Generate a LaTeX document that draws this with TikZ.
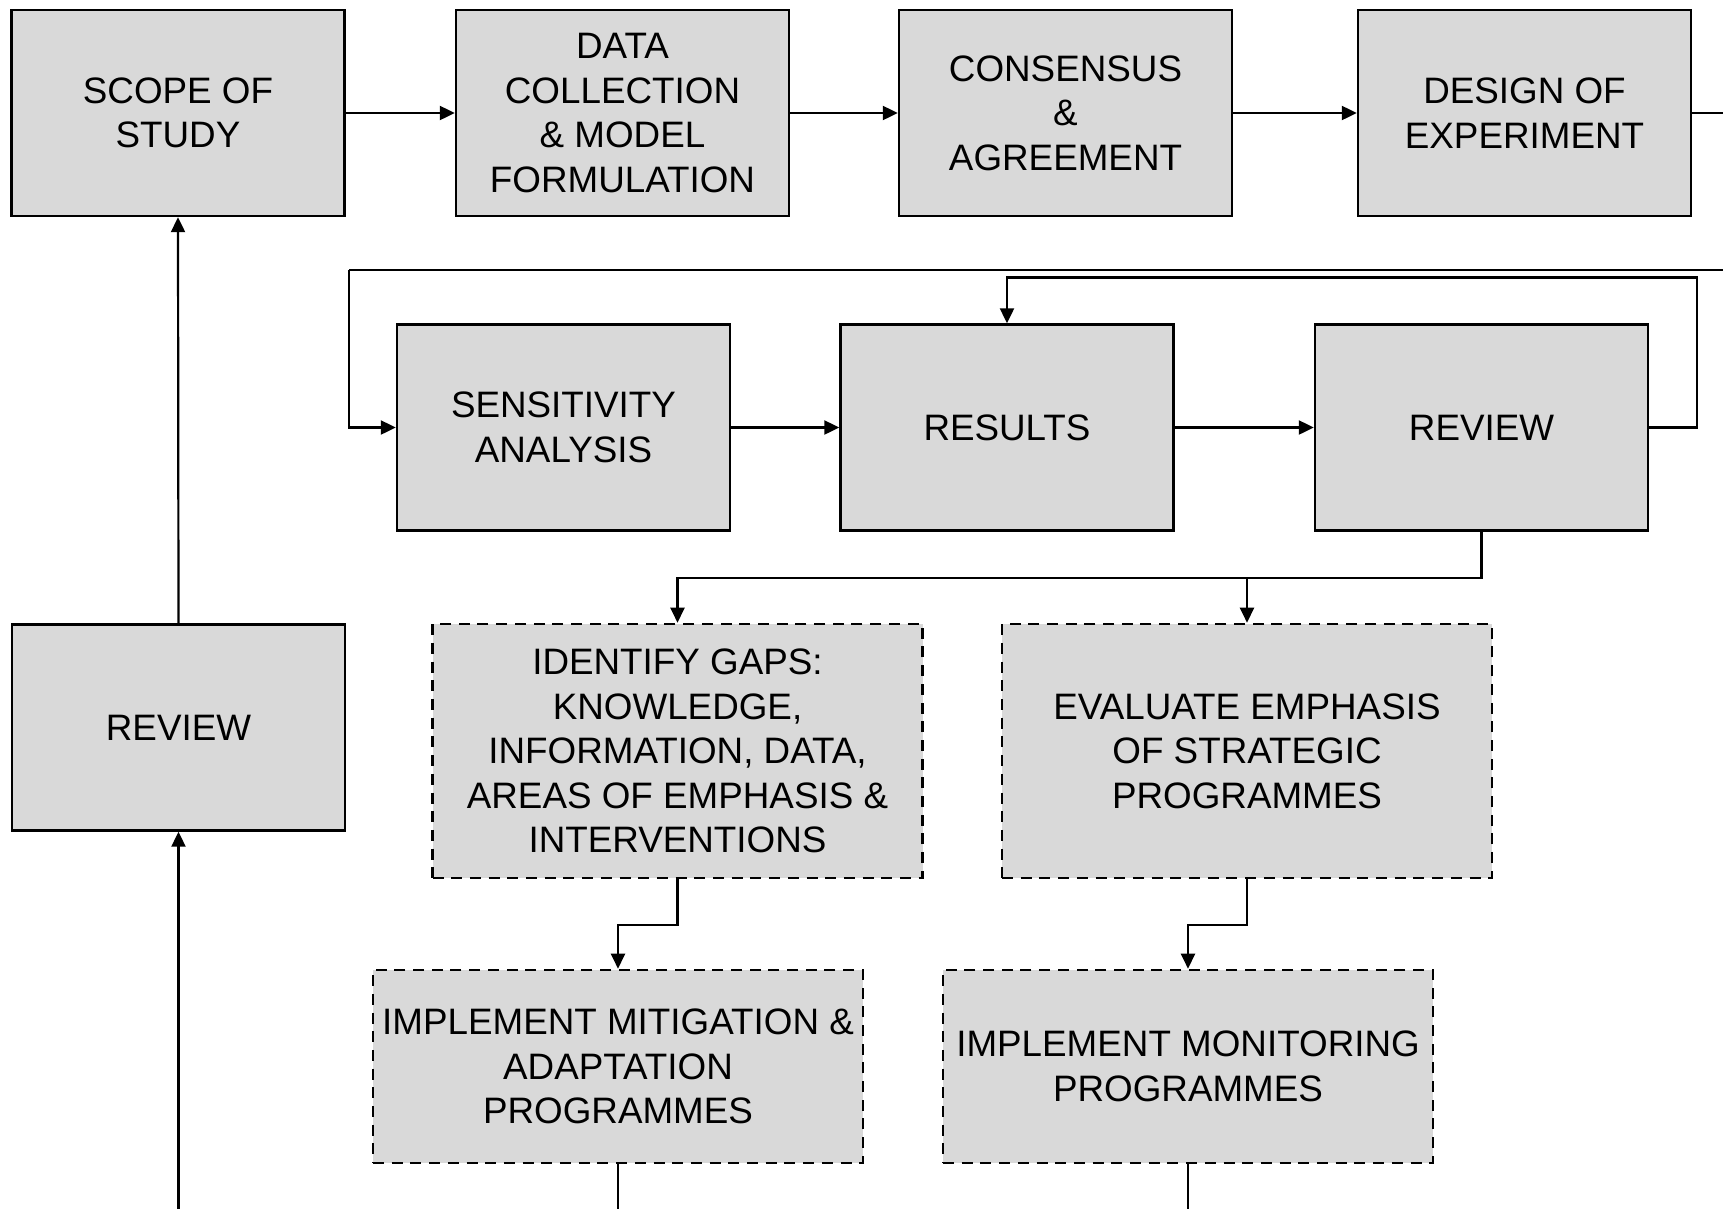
\documentclass[tikz,border=0pt]{standalone}
\usepackage{fontspec}
\setmainfont{Liberation Sans}
\usetikzlibrary{arrows.meta}
\begin{document}
\begin{tikzpicture}[x=1pt,y=-1pt,
  box/.style={draw=black,line width=2.4pt,fill=boxgray,align=center,
    inner sep=0pt,minimum width=333pt,minimum height=206pt,
    font=\fontsize{36.8}{44.5}\selectfont},
  planbox/.style={box,line width=2.6pt,dash pattern=on 11pt off 7.7pt,minimum width=490pt},
  arr/.style={line width=2.2pt,-{Triangle[length=15pt,width=14pt]}},
  ln/.style={line width=2.2pt}]
\definecolor{boxgray}{HTML}{D9D9D9}
\useasboundingbox (0,0) rectangle (1723,1208);
\clip (0,0) rectangle (1723,1208);

% top row
\node[box] (scope)  at (178,113)   {SCOPE OF\\STUDY};
\node[box] (data)   at (622.5,113) {DATA\\COLLECTION\\\& MODEL\\FORMULATION};
\node[box] (cons)   at (1065.5,113) {CONSENSUS\\\&\\AGREEMENT};
\node[box] (design) at (1524.5,113) {DESIGN OF\\EXPERIMENT};

% second row
\node[box] (sens) at (563.5,427.5)  {SENSITIVITY\\ANALYSIS};
\node[box] (res)  at (1007,427.5)   {RESULTS};
\node[box] (rev)  at (1481.5,427.5) {REVIEW};

% left column
\node[box] (revL) at (178.5,727.5) {REVIEW};

% follow-up actions
\node[planbox,minimum height=254pt] (gaps) at (677.5,751)
  {IDENTIFY GAPS:\\KNOWLEDGE,\\INFORMATION, DATA,\\AREAS OF EMPHASIS \&\\INTERVENTIONS};
\node[planbox,minimum height=254pt] (eval) at (1247,751)
  {EVALUATE EMPHASIS\\OF STRATEGIC\\PROGRAMMES};
\node[planbox,minimum height=193pt] (mitig) at (618,1066.5)
  {IMPLEMENT MITIGATION \&\\ADAPTATION\\PROGRAMMES};
\node[planbox,minimum height=193pt] (monit) at (1188,1066.5)
  {IMPLEMENT MONITORING\\PROGRAMMES};

% loose ends running past the frame
\coordinate (outR)  at (1760,113);
\coordinate (outRb) at (1760,270);
\coordinate (loopL) at (349,270);
\coordinate (outM)  at (618,1240);
\coordinate (outN)  at (1188,1240);
\coordinate (outL)  at (178.5,1240);

% top row flow
\draw[arr] (scope) -- (data);
\draw[arr] (data) -- (cons);
\draw[arr] (cons) -- (design);
\draw[ln] (design.east) -- (outR) -- (outRb) -- (loopL);
\draw[arr] (loopL) |- (sens.west);

% second row flow
\draw[arr] (sens) -- (res);
\draw[arr] (res) -- (rev);
\draw[arr] (rev.east) -- ++(48,0) |- ++(-500,-150) -| (res.north);

% branches
\draw[arr] (rev.south) -- ++(0,46) -| (gaps.north);
\draw[arr] (rev.south) -- ++(0,46) -| (eval.north);
\draw[arr] (gaps.south) -- ++(0,46) -| (mitig.north);
\draw[arr] (eval.south) -- ++(0,46) -| (monit.north);
\draw[ln] (mitig.south) -- (outM);
\draw[ln] (monit.south) -- (outN);

% left column
\draw[arr] (outL) -- (revL.south);
\draw[arr] (revL.north) -- (scope.south);
\end{tikzpicture}
\end{document}
